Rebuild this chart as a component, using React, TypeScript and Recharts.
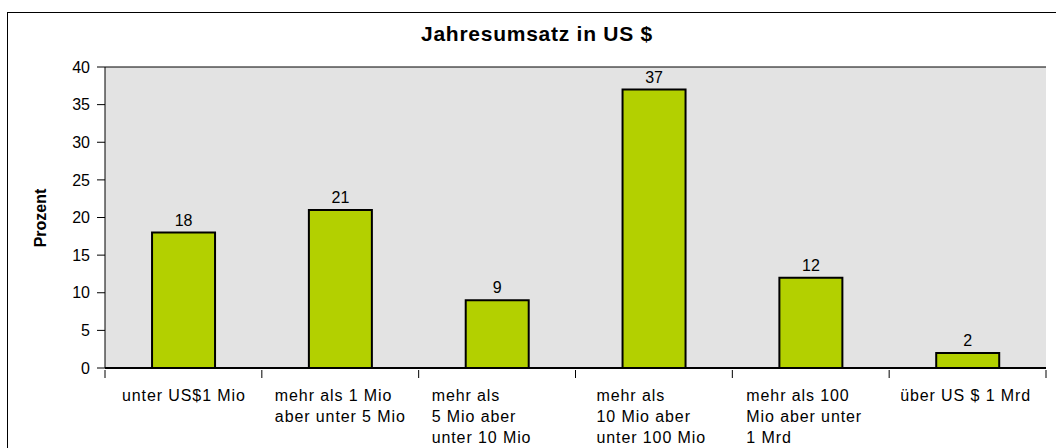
import React from "react";
import {
  BarChart,
  Bar,
  XAxis,
  YAxis,
  CartesianGrid,
  LabelList,
} from "recharts";

const categories: string[][] = [
  ["unter US$1 Mio"],
  ["mehr als 1 Mio", "aber unter 5 Mio"],
  ["mehr als", "5 Mio aber", "unter 10 Mio"],
  ["mehr als", "10 Mio aber", "unter 100 Mio"],
  ["mehr als 100", "Mio aber unter", "1 Mrd"],
  ["über US $ 1 Mrd"],
];
const values: number[] = [18, 21, 9, 37, 12, 2];
const yTicks: number[] = [0, 5, 10, 15, 20, 25, 30, 35, 40];
const title = "Jahresumsatz in US $";
const yLabel = "Prozent";

const data = categories.map((c, i) => ({ name: c.join(" "), idx: i, value: values[i] }));

const FONT = "Arial, 'Liberation Sans', sans-serif";
// label indent (px) from the left edge of each category band
const labelIndent = [17, 13, 13, 21, 14, 11];

const CategoryTick = (props: any) => {
  const { x, y, payload, index, visibleTicksCount } = props;
  const band = 941 / categories.length;
  const half = band / 2;
  const i0 = payload.index ?? index;
  const lines = categories[i0] || [];
  const isLast = index === (visibleTicksCount ?? categories.length) - 1;
  const lx = x - half + (labelIndent[i0] ?? 15);
  return (
    <g>
      <line x1={x - half} x2={x - half} y1={y} y2={y + 8} stroke="#000" strokeWidth={1} />
      {isLast && <line x1={x + half} x2={x + half} y1={y} y2={y + 8} stroke="#000" strokeWidth={1} />}
      <text x={lx} y={y + 31} fontSize={16} letterSpacing={0.9} fontFamily={FONT} fill="#000" textAnchor="start">
        {lines.map((l, i) => (
          <tspan key={i} x={lx} dy={i === 0 ? 0 : 21}>
            {l}
          </tspan>
        ))}
      </text>
    </g>
  );
};

export default function App() {
  return (
    <div style={{ position: "absolute", left: 0, top: 0, width: 1056, height: 448, overflow: "hidden", background: "#fff" }}>
      <div
        style={{
          position: "absolute",
          left: 7,
          top: 12,
          width: 1200,
          height: 600,
          border: "1px solid #000",
          boxSizing: "border-box",
        }}
      />
      <div
        style={{
          position: "absolute",
          left: 0,
          width: 1074,
          top: 22,
          textAlign: "center",
          fontFamily: FONT,
          fontWeight: "bold",
          fontSize: 21,
          letterSpacing: 0.75,
          lineHeight: "24px",
          color: "#000",
        }}
      >
        {title}
      </div>
      <div
        style={{
          position: "absolute",
          left: 41,
          top: 218,
          transform: "translate(-50%, -50%) rotate(-90deg)",
          fontFamily: FONT,
          fontWeight: "bold",
          fontSize: 16,
          whiteSpace: "nowrap",
          color: "#000",
        }}
      >
        {yLabel}
      </div>
      <div style={{ position: "absolute", left: 0, top: 0 }}>
        <BarChart
          width={1056}
          height={448}
          data={data}
          margin={{ top: 67, right: 10, bottom: 0, left: 45 }}
          barCategoryGap="30%"
        >
          <CartesianGrid
            vertical={false}
            horizontal={true}
            stroke="#000"
            strokeWidth={1}
            fill="#e3e3e3"
            fillOpacity={1}
          />
          <XAxis
            dataKey="name"
            xAxisId="bottom"
            height={80}
            axisLine={{ stroke: "#000", strokeWidth: 2 }}
            tickLine={false}
            tickSize={0}
            interval={0}
            tick={<CategoryTick />}
          />
          <XAxis
            dataKey="name"
            xAxisId="top"
            orientation="top"
            height={0}
            tick={false}
            tickLine={false}
            axisLine={{ stroke: "#808080", strokeWidth: 2 }}
          />
          <YAxis
            yAxisId="left"
            width={60}
            domain={[0, 40]}
            ticks={yTicks}
            interval={0}
            tickSize={8}
            tickMargin={7}
            axisLine={{ stroke: "#000", strokeWidth: 1 }}
            tickLine={{ stroke: "#000" }}
            tick={{ fill: "#000", fontSize: 16, fontFamily: FONT }}
          />
          <YAxis
            yAxisId="right"
            orientation="right"
            width={0}
            domain={[0, 40]}
            tick={false}
            tickLine={false}
            axisLine={{ stroke: "#808080", strokeWidth: 2 }}
          />
          <Bar
            dataKey="value"
            xAxisId="bottom"
            yAxisId="left"
            fill="#b3d000"
            stroke="#000"
            strokeWidth={2}
            isAnimationActive={false}
          >
            <LabelList
              dataKey="value"
              position="top"
              offset={7}
              fill="#000"
              fontSize={16}
              fontFamily={FONT}
            />
          </Bar>
        </BarChart>
      </div>
    </div>
  );
}
